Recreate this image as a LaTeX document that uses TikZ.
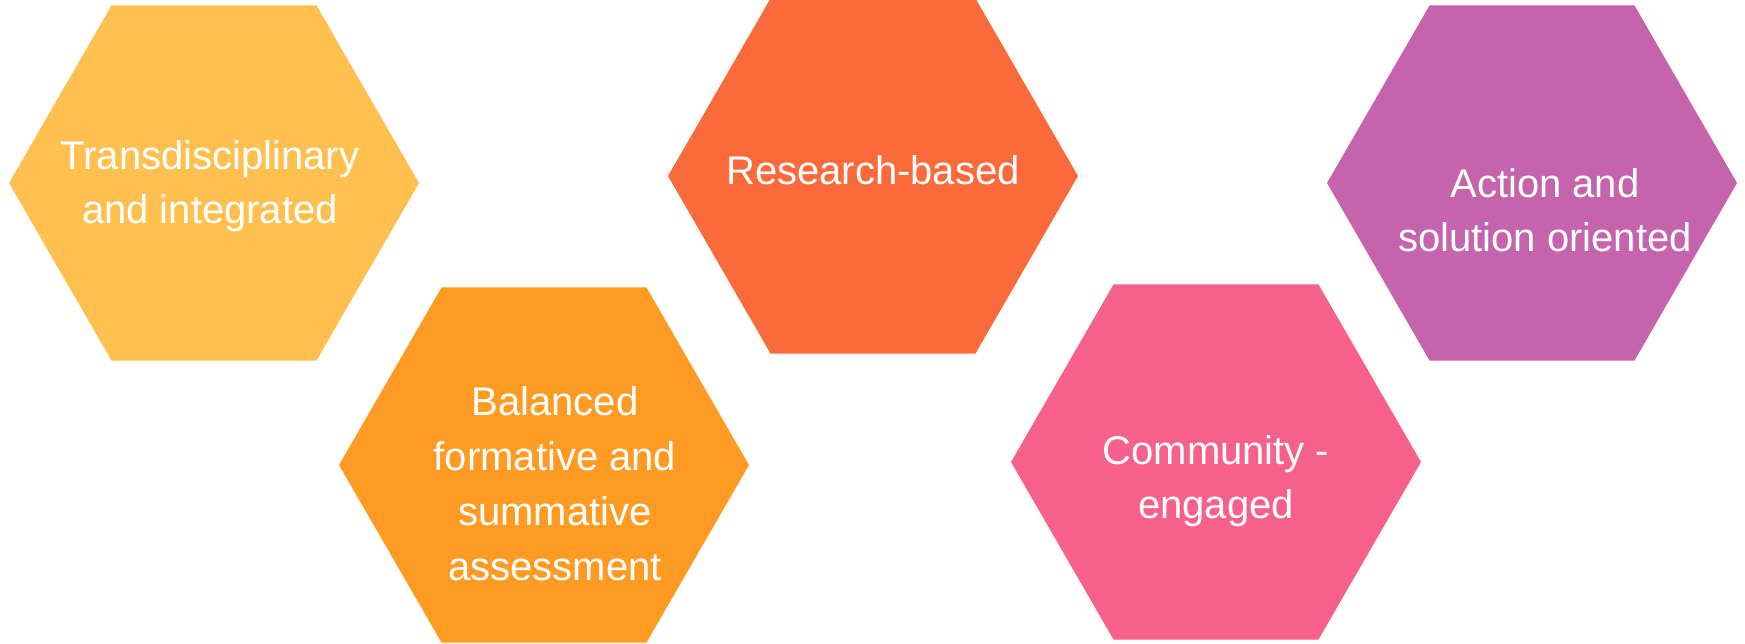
\documentclass[tikz,border=0pt]{standalone}
\usepackage{fontspec}
\setmainfont{Liberation Sans}
\usetikzlibrary{shapes.geometric,positioning}

\definecolor{hexyellow}{HTML}{FFC050}
\definecolor{hexorange}{HTML}{FF9A22}
\definecolor{hexred}{HTML}{FB6A3A}
\definecolor{hexpink}{HTML}{F6608A}
\definecolor{hexpurple}{HTML}{C564AD}

\begin{document}
\begin{tikzpicture}[x=0.5pt,y=-0.5pt,
    hexa/.style={regular polygon, regular polygon sides=6,
        minimum size=205pt, inner sep=0pt, draw=none},
    hextext/.style={text=white, align=center,
        font=\fontsize{20}{26.75}\selectfont},
    ]
\useasboundingbox (0,0) rectangle (1745,643);

% the five hexagons
\foreach \nm/\clr/\cx/\cy in {trans/hexyellow/214/183, bal/hexorange/544/465,
    res/hexred/873/176, comm/hexpink/1216/462, act/hexpurple/1532/183}
    \node[hexa, fill=\clr] (\nm) at (\cx,\cy) {};

% labels
\node[hextext, xshift=-2pt, yshift=-1.7pt] (trans-t) at (trans) {Transdisciplinary\\and integrated};
\node[hextext, xshift=5.5pt, yshift=-9.2pt, font=\fontsize{20}{27.5}\selectfont] (bal-t) at (bal) {Balanced\\formative and\\summative\\assessment};
\node[hextext, yshift=3pt] (res-t) at (res) {Research-based};
\node[hextext, yshift=-9.5pt] (comm-t) at (comm) {Community -\\engaged};
\node[hextext, xshift=6.5pt, yshift=-13.5pt] (act-t) at (act) {Action and\\solution oriented};

\end{tikzpicture}
\end{document}
